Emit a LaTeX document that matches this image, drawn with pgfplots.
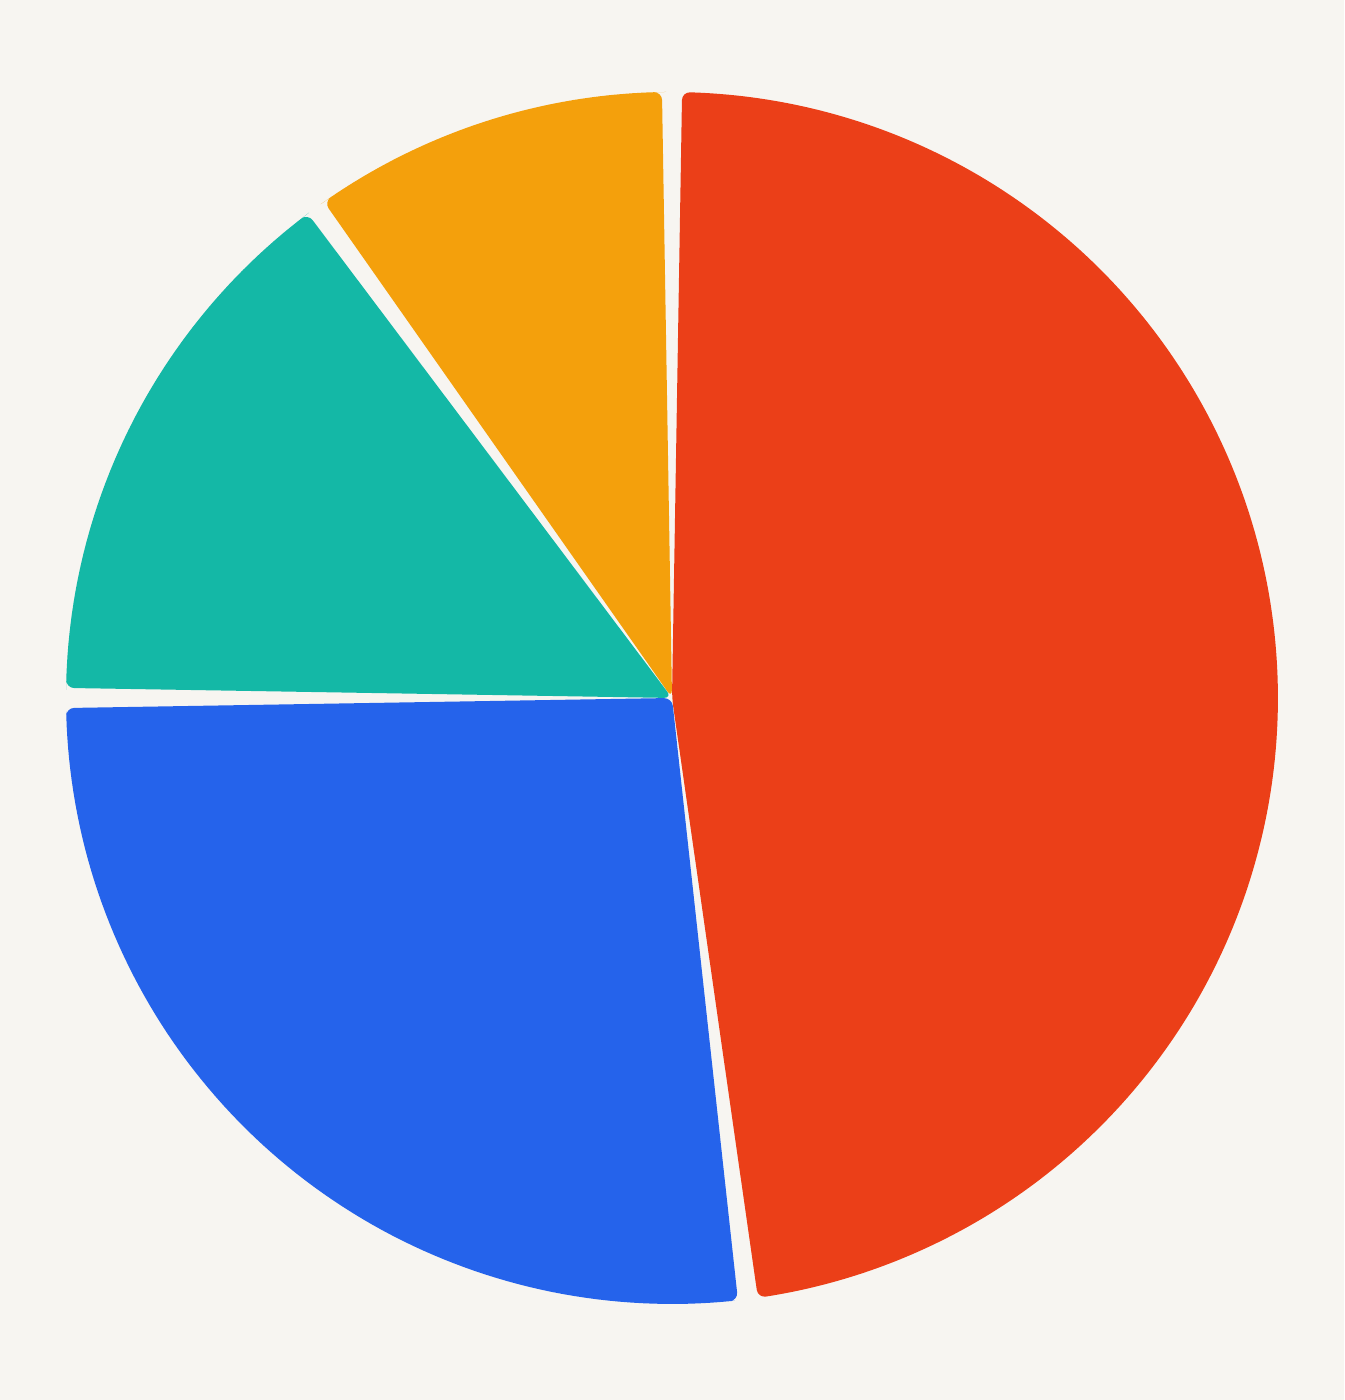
\documentclass[border=0pt]{standalone}
\usepackage{pgfplots}
\usepackage{pgfplotstable}
\pgfplotsset{compat=1.18}
\definecolor{pagebg}{HTML}{F7F5F1}
\definecolor{pred}{HTML}{EB3F18}
\definecolor{pblue}{HTML}{2563EB}
\definecolor{pteal}{HTML}{14B8A6}
\definecolor{porange}{HTML}{F4A00C}

% shares in percent, clockwise from 12 o'clock
\pgfplotstableread{
share color
48 pred
27 pblue
15 pteal
10 porange
}\piedata

\begin{document}
\begin{tikzpicture}
\begin{axis}[
    width=13.44cm, height=14cm, scale only axis,
    xmin=-672, xmax=672, ymin=-702, ymax=698,
    axis lines=none, ticks=none,
    axis background/.style={fill=pagebg},
    clip=false,
]
\xdef\pieangle{90}
\pgfplotsinvokeforeach{0,...,3}{
    \pgfplotstablegetelem{#1}{share}\of\piedata
    \pgfmathsetmacro\pieend{\pieangle-3.6*\pgfplotsretval}
    \pgfmathsetmacro\piefrom{\pieend+0.95}
    \pgfmathsetmacro\pieto{\pieangle-0.95}
    \pgfplotstablegetelem{#1}{color}\of\piedata
    \edef\temp{\noexpand\addplot[draw=none, fill=\pgfplotsretval, rounded corners=2.3pt,
        domain=\piefrom:\pieto, samples=90]
        ({606*cos(x)},{606*sin(x)}) -- (axis cs:0,0) -- cycle;}
    \temp
    \xdef\pieangle{\pieend}
}
\end{axis}
\end{tikzpicture}
\end{document}
